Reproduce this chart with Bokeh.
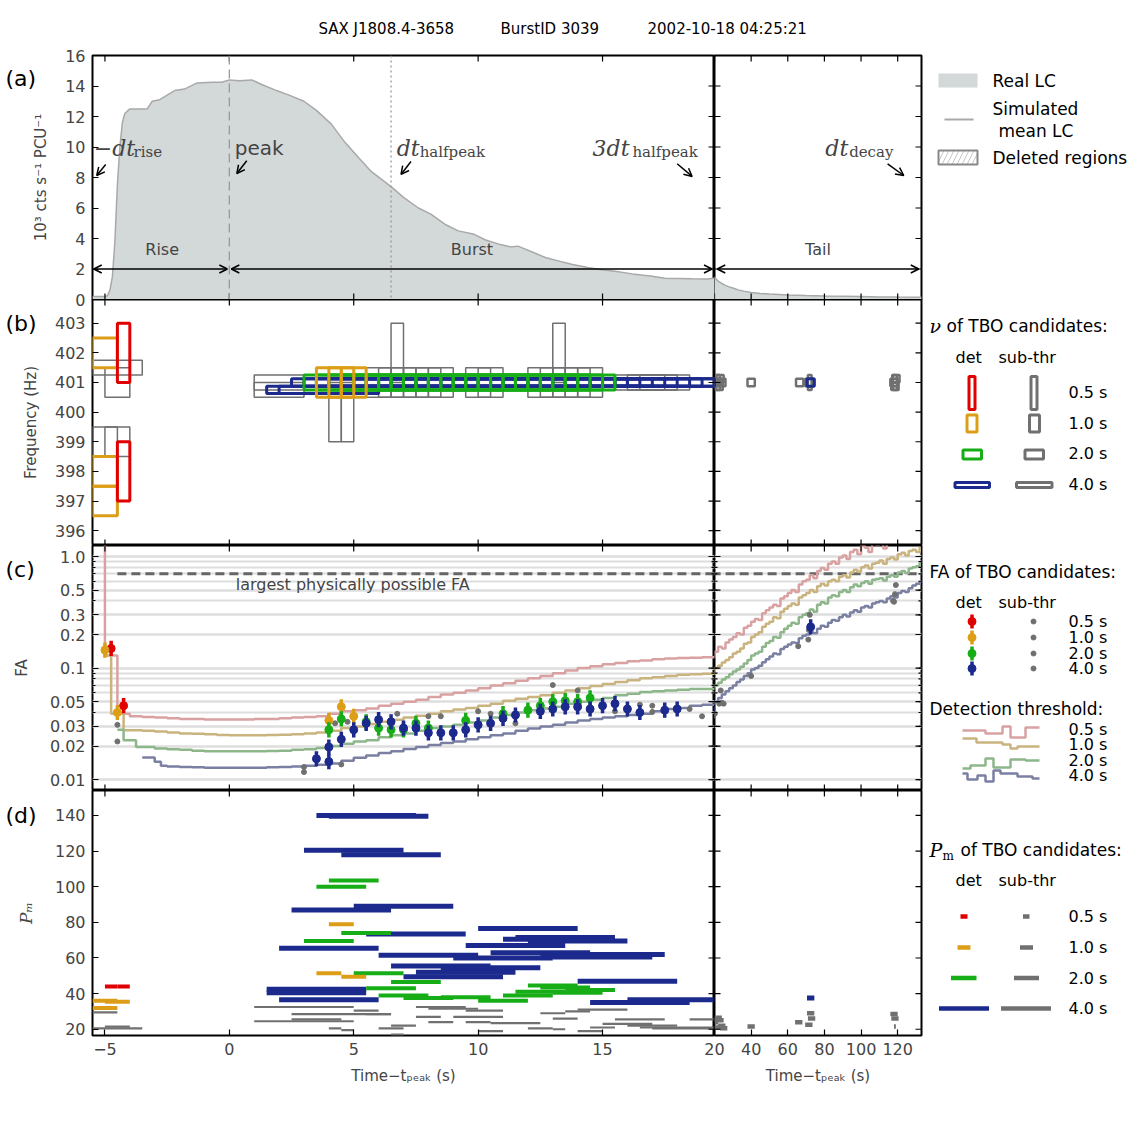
import math
from bokeh.plotting import figure
from bokeh.layouts import row, column
from bokeh.models import (Range1d, FixedTicker, Label, Span, Arrow, OpenHead, Grid,
                          CustomJSTickFormatter)
from bokeh.core.properties import value
from bokeh.embed import file_html
from bokeh.resources import INLINE

# ======================= DATA =======================
title_parts = ["SAX J1808.4-3658", "BurstID 3039", "2002-10-18 04:25:21"]
panel_tags = ["(a)", "(b)", "(c)", "(d)"]

# (a) light curve, 10^3 cts/s/PCU vs time - t_peak (s)
lc_t = [-5.5, -5.0, -4.9, -4.8, -4.7, -4.6, -4.5, -4.4, -4.3, -4.2, -4.0, -3.7, -3.3, -3.1, -2.8,
        -2.4, -2.2, -1.8, -1.3, -0.7, -0.3, 0.0, 0.4, 0.9, 1.3, 1.9, 2.4, 3.0, 3.5, 4.1, 4.6, 5.2,
        5.7, 6.5, 7.0, 7.6, 8.1, 8.7, 9.2, 9.8, 10.3, 10.9, 11.3, 11.6, 12.2, 12.7, 13.3, 13.8,
        14.4, 14.9, 15.5, 16.2, 17.0, 17.5, 18.1, 18.6, 19.2, 19.5, 20.0, 22.0, 24.0, 26.0, 28.0,
        30.0, 33.0, 36.0, 40.0, 45.0, 50.0, 55.0, 60.0, 70.0, 80.0, 90.0, 100.0, 110.0, 120.0, 133.0]
lc_f = [0.2, 0.2, 0.25, 0.6, 1.5, 3.8, 7.5, 10.0, 11.6, 12.2, 12.5, 12.5, 12.5, 13.0, 13.1,
        13.5, 13.7, 13.8, 14.2, 14.25, 14.25, 14.4, 14.35, 14.4, 14.1, 13.7, 13.4, 13.0, 12.4, 11.5,
        10.4, 9.3, 8.4, 7.4, 6.7, 6.0, 5.6, 4.9, 4.5, 4.3, 3.9, 3.6, 3.45, 3.5, 3.1, 2.75, 2.5,
        2.3, 2.1, 1.97, 1.86, 1.68, 1.53, 1.4, 1.38, 1.36, 1.34, 1.4, 1.45, 1.2, 1.05, 0.93, 0.83,
        0.75, 0.63, 0.55, 0.46, 0.4, 0.36, 0.33, 0.3, 0.26, 0.23, 0.21, 0.19, 0.17, 0.16, 0.15]
t_start, t_peak, t_halfpeak, t_burst_end, t_tail_start, t_tail_end = -5.45, 0.0, 6.5, 19.4, 21.5, 131.5
region_level = 2.0
region_names = ["Rise", "Burst", "Tail"]
region_x = [-2.7, 9.75, 76.5]

# (b) frequency of TBO candidates: window start (s), centre frequency (Hz)
b_red_start = [-4.5, -4.5]
b_red_freq = [402.0, 398.0]
b_ora_start = [-5.5, -5.5, -5.5, 3.5, 4.0, 4.5]
b_ora_freq = [402.0, 398.0, 397.0, 401.0, 401.0, 401.0]
b_grn_start = [3.0, 3.5, 4.0, 4.5, 5.0, 5.5, 6.0, 6.5, 7.0, 7.5, 8.0, 8.5, 9.0, 9.5, 10.0, 10.5,
               11.0, 11.5, 12.0, 12.5, 13.0, 13.5]
b_grn_freq = [401.0, 401.0, 401.0, 401.0, 401.0, 401.0, 401.0, 401.0, 401.0, 401.0, 401.0,
              401.0, 401.0, 401.0, 401.0, 401.0, 401.0, 401.0, 401.0, 401.0, 401.0, 401.0]
b_blu_start = [1.5, 2.0, 2.5, 3.0, 3.5, 4.0, 4.5, 5.0, 5.5, 6.0, 6.5, 7.0, 7.5, 8.0, 8.5, 9.0,
               9.5, 10.0, 10.5, 11.0, 11.5, 12.0, 12.5, 13.0, 13.5, 14.0, 14.5, 15.0, 15.5, 16.0, 70.5]
b_blu_freq = [400.75, 400.75, 401.0, 401.0, 401.0, 401.0, 401.0, 401.0, 401.0, 401.0, 401.0,
              401.0, 401.0, 401.0, 401.0, 401.0, 401.0, 401.0, 401.0, 401.0, 401.0, 401.0, 401.0,
              401.0, 401.0, 401.0, 401.0, 401.0, 401.0, 401.0, 401.0]
b_gry_start = [-5.5, -5.0, -5.5, -5.0, 4.0, 4.5, 6.5, 13.0, 5.5, 6.0, 6.5, 7.0, 7.5, 8.0, 9.5,
               10.0, 12.0, 12.5, 13.0, 13.5, 14.0, 1.0, 1.0, 15.5, 16.0, 16.5, 20.0, 20.5, 21.0,
               22.0, 21.0, 38.0, 64.5, 69.5, 71.0, 116.0, 116.5, 117.0, 117.5]
b_gry_freq = [401.5, 401.0, 399.0, 399.0, 400.0, 400.0, 402.0, 402.0, 401.0, 401.0, 401.0, 401.0,
              401.0, 401.0, 401.0, 401.0, 401.0, 401.0, 401.0, 401.0, 401.0, 400.75, 401.0, 401.0,
              401.0, 401.0, 401.0, 400.875, 401.125, 401.0, 401.0, 401.0, 401.0, 401.0, 401.0,
              401.0, 400.875, 401.125, 401.0]
b_gry_dur = [2.0, 1.0, 1.0, 1.0, 0.5, 0.5, 0.5, 0.5, 1.0, 1.0, 1.0, 1.0, 1.0, 1.0, 1.0, 1.0, 1.0,
             1.0, 1.0, 1.0, 1.0, 2.0, 2.0, 2.0, 2.0, 2.0, 4.0, 4.0, 4.0, 4.0, 2.0, 4.0, 4.0, 4.0,
             2.0, 4.0, 4.0, 4.0, 2.0]
durations = [0.5, 1.0, 2.0, 4.0]
dur_labels = ["0.5 s", "1.0 s", "2.0 s", "4.0 s"]

# (c) false-alarm probability
grid_l = [-5.5, -5.0, -4.5, -4.0, -3.5, -3.0, -2.5, -2.0, -1.5, -1.0, -0.5, 0.0, 0.5, 1.0, 1.5,
          2.0, 2.5, 3.0, 3.5, 4.0, 4.5, 5.0, 5.5, 6.0, 6.5, 7.0, 7.5, 8.0, 8.5, 9.0, 9.5, 10.0,
          10.5, 11.0, 11.5, 12.0, 12.5, 13.0, 13.5, 14.0, 14.5, 15.0, 15.5, 16.0, 16.5, 17.0,
          17.5, 18.0, 18.5, 19.0, 19.5]
grid_r = [20, 22, 24, 26, 28, 30, 32, 34, 36, 38, 40, 42, 44, 46, 48, 50, 52, 54, 56, 58, 60,
          62, 64, 66, 68, 70, 72, 74, 76, 78, 80, 82, 84, 86, 88, 90, 92, 94, 96, 98, 100, 102,
          104, 106, 108, 110, 112, 114, 116, 118, 120, 122, 124, 126, 128, 130, 132]
thr05_t = grid_l + grid_r
thr05 = [3.0, 0.13, 0.039, 0.037, 0.0365, 0.036, 0.0355, 0.035, 0.035, 0.0347, 0.0347, 0.0347,
         0.0347, 0.035, 0.035, 0.0355, 0.036, 0.0365, 0.037, 0.039, 0.041, 0.042, 0.0435, 0.046,
         0.048, 0.05, 0.052, 0.055, 0.058, 0.06, 0.063, 0.066, 0.07, 0.073, 0.077, 0.081, 0.085,
         0.09, 0.095, 0.1, 0.104, 0.108, 0.111, 0.115, 0.117, 0.12, 0.122, 0.123, 0.124, 0.125,
         0.125,
         0.14, 0.155, 0.15, 0.17, 0.18, 0.19, 0.205, 0.2, 0.23, 0.24, 0.26, 0.275, 0.27, 0.31,
         0.33, 0.35, 0.37, 0.36, 0.42, 0.44, 0.47, 0.5, 0.48, 0.56, 0.6, 0.62, 0.68, 0.64, 0.74,
         0.79, 0.76, 0.86, 0.9, 0.86, 0.98, 1.02, 0.95, 1.1, 1.15, 1.05, 1.25, 1.2, 1.1, 1.3,
         1.28, 1.35, 1.18, 1.4, 1.38, 1.3, 1.45, 1.4, 1.5, 1.35, 1.5, 1.45, 1.55]
thr10_t = [-5.0, -4.75, -4.25] + grid_l[4:] + grid_r
thr10 = [0.13, 0.039, 0.0277, 0.0275, 0.027, 0.0265, 0.026, 0.0258, 0.0255, 0.0252, 0.025,
         0.025, 0.025, 0.0252, 0.0253, 0.0256, 0.026, 0.0265, 0.0275, 0.029, 0.03, 0.0316, 0.033,
         0.0345, 0.036, 0.0375, 0.039, 0.041, 0.0425, 0.044, 0.046, 0.048, 0.051, 0.053, 0.055,
         0.057, 0.06, 0.063, 0.066, 0.069, 0.072, 0.075, 0.078, 0.081, 0.083, 0.085, 0.087,
         0.088, 0.089, 0.089,
         0.1, 0.105, 0.112, 0.118, 0.125, 0.135, 0.14, 0.15, 0.165, 0.17, 0.19, 0.2, 0.21, 0.235,
         0.25, 0.26, 0.285, 0.28, 0.32, 0.34, 0.36, 0.38, 0.37, 0.43, 0.45, 0.47, 0.5, 0.48,
         0.54, 0.57, 0.55, 0.6, 0.62, 0.6, 0.66, 0.68, 0.65, 0.72, 0.76, 0.73, 0.8, 0.83, 0.78,
         0.86, 0.88, 0.92, 0.86, 0.95, 0.98, 0.94, 1.05, 1.08, 1.02, 1.12, 1.15, 1.1, 1.22]
thr20_t = [-4.5, -4.25, -3.75] + grid_l[5:] + grid_r
thr20 = [0.028, 0.0226, 0.0196, 0.019, 0.0187, 0.0185, 0.0182, 0.018, 0.018, 0.018, 0.018,
         0.018, 0.0181, 0.0182, 0.0185, 0.0187, 0.0192, 0.02, 0.021, 0.022, 0.0226, 0.024, 0.025,
         0.026, 0.0275, 0.029, 0.03, 0.031, 0.0325, 0.034, 0.036, 0.038, 0.04, 0.042, 0.0435,
         0.045, 0.048, 0.05, 0.052, 0.054, 0.057, 0.059, 0.061, 0.062, 0.063, 0.064, 0.065,
         0.065, 0.065,
         0.07, 0.074, 0.079, 0.083, 0.088, 0.093, 0.097, 0.103, 0.11, 0.118, 0.13, 0.135, 0.14,
         0.155, 0.168, 0.175, 0.19, 0.187, 0.21, 0.225, 0.24, 0.255, 0.25, 0.285, 0.3, 0.31,
         0.335, 0.32, 0.37, 0.39, 0.38, 0.43, 0.45, 0.44, 0.48, 0.5, 0.48, 0.53, 0.56, 0.54,
         0.58, 0.6, 0.57, 0.62, 0.63, 0.64, 0.61, 0.66, 0.68, 0.66, 0.72, 0.74, 0.71, 0.78, 0.8,
         0.82, 0.88]
thr40_t = [-3.5, -3.0, -2.75] + grid_l[6:] + grid_r
thr40 = [0.0158, 0.0145, 0.0133, 0.0131, 0.013, 0.0129, 0.0128, 0.0128, 0.0128, 0.0128, 0.0128,
         0.0129, 0.013, 0.0131, 0.0133, 0.0136, 0.014, 0.0148, 0.0157, 0.0165, 0.0173, 0.018,
         0.0188, 0.0196, 0.0205, 0.0213, 0.022, 0.023, 0.024, 0.025, 0.026, 0.0275, 0.0287, 0.03,
         0.031, 0.0325, 0.034, 0.035, 0.036, 0.037, 0.038, 0.039, 0.041, 0.043, 0.044, 0.046,
         0.047, 0.048,
         0.05, 0.054, 0.058, 0.062, 0.066, 0.07, 0.075, 0.079, 0.085, 0.09, 0.097, 0.1, 0.105,
         0.113, 0.12, 0.127, 0.135, 0.133, 0.148, 0.155, 0.163, 0.17, 0.168, 0.185, 0.195, 0.2,
         0.21, 0.205, 0.225, 0.24, 0.235, 0.255, 0.27, 0.265, 0.285, 0.3, 0.29, 0.315, 0.33,
         0.32, 0.35, 0.36, 0.35, 0.38, 0.39, 0.4, 0.39, 0.42, 0.44, 0.43, 0.47, 0.49, 0.48, 0.52,
         0.55, 0.57, 0.6]
fa_max = 0.7
fa_line_start = -4.5
fa_line_text = "largest physically possible FA"

fa_red_t = [-4.75, -4.25]
fa_red = [0.15, 0.046]
fa_ora_t = [-5.0, -4.5, 4.0, 4.5, 5.0]
fa_ora = [0.145, 0.04, 0.034, 0.045, 0.037]
fa_grn_t = [4.0, 4.5, 5.5, 6.0, 6.5, 7.0, 7.5, 8.0, 9.5, 11.0, 12.0, 12.5, 13.0, 13.5, 14.0, 14.5]
fa_grn = [0.028, 0.035, 0.033, 0.029, 0.028, 0.028, 0.032, 0.029, 0.034, 0.039, 0.042, 0.046,
          0.05, 0.051, 0.05, 0.054]
fa_blu_t = [3.5, 4.0, 4.0, 4.5, 5.0, 5.5, 6.0, 6.5, 7.0, 7.5, 8.0, 8.5, 9.0, 9.5, 10.0, 10.5,
            11.0, 11.5, 12.5, 13.0, 13.5, 14.0, 14.5, 15.0, 15.5, 16.0, 16.5, 17.5, 18.0, 72.5]
fa_blu = [0.0154, 0.0196, 0.0145, 0.023, 0.028, 0.032, 0.0345, 0.033, 0.029, 0.029, 0.0263,
          0.0263, 0.0263, 0.028, 0.031, 0.032, 0.0355, 0.038, 0.041, 0.043, 0.045, 0.045, 0.043,
          0.046, 0.048, 0.043, 0.04, 0.042, 0.043, 0.234]
fa_err = 1.17
fa_sub_t = [-4.5, -4.5, 3.0, 3.0, 4.25, 4.5, 4.75, 6.75, 8.0, 8.5, 10.0, 10.5, 11.5, 13.0, 14.0,
            15.5, 16.5, 16.5, 17.0, 17.0, 18.5, 19.0, 20.2, 22.6, 23.4, 24.0, 25.0, 40.0, 65.7,
            71.2, 71.5, 72.0, 117.5, 118.0, 118.5, 119.0]
fa_sub = [0.031, 0.022, 0.013, 0.0117, 0.032, 0.0137, 0.033, 0.039, 0.037, 0.037, 0.041, 0.039,
          0.032, 0.0705, 0.063, 0.041, 0.047, 0.0405, 0.046, 0.0405, 0.043, 0.037, 0.039, 0.048,
          0.063, 0.049, 0.048, 0.085, 0.157, 0.18, 0.22, 0.3, 0.4, 0.393, 0.46, 0.555]

# (d) P_m of TBO candidates: window start (s), P_m
d_red_start = [-5.0, -4.5]
d_red_pm = [44.0, 44.0]
d_ora_start = [4.0, 3.5, 4.5, -5.5, -5.0, -5.5]
d_ora_pm = [79.0, 51.5, 49.5, 36.0, 35.5, 32.0]
d_grn_start = [4.0, 3.5, 4.5, 3.0, 5.0, 6.5, 5.5, 6.0, 7.0, 8.5, 10.0, 11.0, 12.0, 12.5, 11.5,
               13.0, 13.5]
d_grn_pm = [103.5, 100.0, 74.0, 69.5, 51.5, 46.5, 43.0, 39.0, 37.5, 38.0, 36.0, 39.0, 44.5,
            43.5, 41.0, 40.5, 42.0]
d_blu_start = [3.5, 4.0, 3.0, 4.5, 2.5, 5.0, 5.5, 2.0, 10.0, 11.0, 11.5, 12.0, 9.5, 6.0, 9.0,
               10.5, 12.5, 13.5, 13.0, 6.5, 8.5, 7.5, 7.0, 14.0, 1.5, 1.5, 2.0, 14.5, 16.0, 70.5]
d_blu_pm = [140.0, 139.5, 120.5, 118.0, 87.0, 89.0, 73.5, 65.5, 76.5, 70.5, 71.5, 69.5, 67.0,
            61.5, 60.0, 63.0, 61.0, 62.0, 60.5, 55.5, 54.5, 52.0, 49.5, 47.0, 42.5, 40.5, 36.5,
            35.0, 36.5, 37.5]
d_gry_start = [-5.5, -5.5, -5.0, 1.0, 2.5, 2.5, 1.0, 5.0, 5.5, 4.0, 4.5, 6.0, 6.5, 6.5, 7.5,
               8.0, 9.5, 7.5, 9.0, 8.0, 9.5, 10.5, 10.0, 12.0, 13.0, 12.5, 13.5, 14.0, 13.0, 14.0,
               14.5, 15.5, 18.5, 15.0, 16.0, 16.5, 17.0, 20.0, 21.0, 22.0, 20.0, 23.0, 20.0, 38.0,
               64.0, 69.5, 71.0, 70.5, 116.0, 116.5, 118.0]
d_gry_end = [-4.5, -3.5, -4.0, 5.0, 6.5, 4.5, 5.0, 6.0, 6.5, 4.5, 5.0, 7.0, 7.5, 7.0, 9.5, 10.0,
             11.0, 8.5, 11.0, 9.0, 10.5, 12.5, 11.0, 13.0, 13.5, 13.5, 14.5, 16.0, 14.0, 15.0,
             15.5, 17.5, 20.0, 17.0, 18.0, 19.5, 19.5, 24.0, 25.0, 26.0, 24.0, 27.0, 22.0, 42.0,
             68.0, 73.5, 75.0, 74.5, 120.0, 120.5, 119.0]
d_gry_pm = [29.5, 20.5, 21.5, 32.5, 28.5, 25.5, 24.5, 30.5, 28.5, 20.5, 19.5, 20.5, 22.0, 17.0,
            32.5, 31.5, 30.5, 27.0, 27.0, 24.0, 24.0, 23.5, 19.0, 20.5, 20.0, 29.0, 30.0, 31.0,
            26.0, 19.0, 21.0, 25.5, 25.5, 23.0, 22.0, 21.0, 20.5, 26.5, 25.0, 22.0, 21.0, 20.5,
            24.0, 21.5, 24.0, 22.5, 26.0, 29.0, 28.5, 26.0, 21.5]

# axis ticks
XT_L = [-5, 0, 5, 10, 15]
XT_R = [20, 40, 60, 80, 100, 120]
YT_A = [0, 2, 4, 6, 8, 10, 12, 14, 16]
YT_B = [396, 397, 398, 399, 400, 401, 402, 403]
YT_C = [0.01, 0.02, 0.03, 0.05, 0.1, 0.2, 0.3, 0.5, 1.0]
YT_C_MINOR = [0.01, 0.02, 0.03, 0.04, 0.05, 0.06, 0.07, 0.08, 0.09, 0.1, 0.2, 0.3, 0.4, 0.5,
              0.6, 0.7, 0.8, 0.9, 1.0]
YT_D = [20, 40, 60, 80, 100, 120, 140]

# ======================= STYLE =======================
FONT = "DejaVu Sans"
SERIF = "DejaVu Serif"
C_LC = "#d3d8d8"
C_LC_EDGE = "#a9a9a9"
C_RED, C_ORA, C_GRN, C_BLU, C_GRY = "#e00000", "#dc9e16", "#17ad17", "#1b2a8c", "#707070"
DET_COLS = [C_RED, C_ORA, C_GRN, C_BLU]
C_THR = ["#d9a1a1", "#c9b47f", "#8db78a", "#7b80a3"]
LEFT_W, RIGHT_W, LEG_W = 622, 207, 217
XL, XR = (-5.5, 19.5), (20.0, 133.0)
TITLE_H = 45
OVERLAP_AB = 9      # (a) canvas reaches under (b) so the "0" label is not clipped
OVERLAP_D = 14      # right (d) canvas reaches left so the "20" label is not clipped


def style_axis(ax, standoff):
    ax.major_label_text_font = FONT
    ax.major_label_text_font_size = "16px"
    ax.major_label_standoff = 7
    ax.major_tick_in = 6
    ax.major_tick_out = 0
    ax.minor_tick_in = 3
    ax.minor_tick_out = 0
    ax.major_tick_line_width = 1.2
    ax.axis_line_color = None
    ax.axis_label_text_font = FONT
    ax.axis_label_text_font_size = "15px"
    ax.axis_label_text_font_style = "normal"
    ax.axis_label_standoff = standoff


def inner_ticks(p, xs, ys, xr, yr, top=True, bottom=True, left=True, right=True, size=12):
    # matplotlib-like inward tick marks: dashes centred on the frame edge, clipped by the frame
    if top:
        p.scatter(x=xs, y=[yr[1]] * len(xs), marker="dash", angle=math.pi / 2, size=size,
                  line_color="black", line_width=1.2)
    if bottom:
        p.scatter(x=xs, y=[yr[0]] * len(xs), marker="dash", angle=math.pi / 2, size=size,
                  line_color="black", line_width=1.2)
    if left:
        p.scatter(x=[xr[0]] * len(ys), y=ys, marker="dash", size=size, line_color="black",
                  line_width=1.2)
    if right:
        p.scatter(x=[xr[1]] * len(ys), y=ys, marker="dash", size=size, line_color="black",
                  line_width=1.2)


def panel(side, fh, yr, yticks, ylog=False, xlabels=False, top=0, bottom=0, ylabel=None,
          ystandoff=10, xlabel=None, border_fill="white", left_border=0):
    L = side == "L"
    xr = XL if L else XR
    p = figure(frame_width=LEFT_W if L else RIGHT_W, frame_height=fh,
               x_range=Range1d(*xr), y_range=Range1d(*yr),
               y_axis_type="log" if ylog else "linear",
               x_axis_location="below" if xlabels else None,
               y_axis_location="left" if L else None,
               min_border_left=92 if L else left_border, min_border_right=0 if L else 2,
               min_border_top=top, min_border_bottom=bottom,
               toolbar_location=None, output_backend="svg",
               outline_line_color="black", outline_line_width=2,
               border_fill_color=border_fill)
    p.grid.visible = False
    if L:
        ax = p.yaxis[0]
        ax.ticker = yticks
        style_axis(ax, ystandoff)
        ax.axis_label = ylabel
    if xlabels:
        ax = p.xaxis[0]
        ax.ticker = FixedTicker(ticks=XT_L if L else XT_R)
        style_axis(ax, 9)
        ax.axis_label = xlabel
    return p


def lab(p, x, y, text, size="16px", font=FONT, style="normal", align="left", baseline="middle"):
    p.add_layout(Label(x=x, y=y, text=text, text_font=font, text_font_size=size,
                       text_font_style=style, text_align=align, text_baseline=baseline))


def arrow(p, x0, y0, x1, y1, both=False):
    p.add_layout(Arrow(start=OpenHead(size=8, line_width=1.5) if both else None,
                       end=OpenHead(size=8, line_width=1.5),
                       x_start=x0, y_start=y0, x_end=x1, y_end=y1, line_width=1.5))


def txt(f, xs, ys, texts, size="17px", font=FONT, style="normal", align="left"):
    f.text(x=xs, y=ys, text=texts, text_font=value(font), text_font_size=value(size),
           text_font_style=style, text_align=align, text_baseline="middle", text_color="black")


def boxes(p, starts, freqs, durs, color, lw):
    p.quad(left=starts, right=[s + d for s, d in zip(starts, durs)],
           bottom=[f - 0.5 / d for f, d in zip(freqs, durs)],
           top=[f + 0.5 / d for f, d in zip(freqs, durs)],
           fill_color=None, line_color=color, line_width=lw)


def blank_fig(w, h, x0, x1, y_top, y_bot, top=0, bottom=0, fill="white"):
    f = figure(frame_width=w, frame_height=h, x_range=Range1d(x0, x1),
               y_range=Range1d(y_bot, y_top), x_axis_location=None, y_axis_location=None,
               min_border_left=0, min_border_right=0, min_border_top=top,
               min_border_bottom=bottom, toolbar_location=None, output_backend="svg",
               outline_line_color=None, border_fill_color=fill, background_fill_color=fill)
    f.grid.visible = False
    return f


def legend_fig(y_top, y_bot, top=0, bottom=0, fill="white"):
    return blank_fig(LEG_W, y_bot - y_top, 923, 1140, y_top, y_bot, top, bottom, fill)


# ======================= TITLE =======================
title_fig = blank_fig(1140, TITLE_H, 0, 1140, 0, TITLE_H)
txt(title_fig, [318, 500, 647], [28, 28, 28], title_parts, size="15px")

# ======================= (a) =======================
yt_a = FixedTicker(ticks=YT_A)
pa = [panel("L", 244, (0, 16), yt_a, top=10, bottom=OVERLAP_AB, ylabel="10³ cts s⁻¹ PCU⁻¹",
            ystandoff=12),
      panel("R", 244, (0, 16), yt_a, top=10, bottom=OVERLAP_AB)]
for p in pa:
    p.varea(x=lc_t, y1=0, y2=lc_f, fill_color=C_LC)
    p.line(lc_t, lc_f, line_color=C_LC_EDGE, line_width=1.5)
inner_ticks(pa[0], XT_L, YT_A, XL, (0, 16), left=False)
inner_ticks(pa[1], XT_R, YT_A, XR, (0, 16))
pa[0].add_layout(Span(location=t_peak, dimension="height", line_color="#9a9a9a",
                      line_dash="9 5", line_width=1.3))
pa[0].add_layout(Span(location=t_halfpeak, dimension="height", line_color="#9a9a9a",
                      line_dash="2 3", line_width=1.3))
arrow(pa[0], t_start, region_level, t_peak - 0.08, region_level, both=True)
arrow(pa[0], t_peak + 0.08, region_level, t_burst_end, region_level, both=True)
arrow(pa[1], t_tail_start, region_level, t_tail_end, region_level, both=True)
lab(pa[0], region_x[0], 3.3, region_names[0], align="center")
lab(pa[0], region_x[1], 3.3, region_names[1], align="center")
lab(pa[1], region_x[2], 3.3, region_names[2], align="center")
# event markers
lab(pa[0], -5.45, 9.9, "−dt", size="22px", font=SERIF, style="italic", baseline="alphabetic")
lab(pa[0], -3.85, 9.7, "rise", size="15px", font=SERIF, baseline="alphabetic")
lab(pa[0], 0.22, 9.95, "peak", size="20px", baseline="alphabetic")
lab(pa[0], 6.73, 9.9, "dt", size="22px", font=SERIF, style="italic", baseline="alphabetic")
lab(pa[0], 7.65, 9.7, "halfpeak", size="15px", font=SERIF, baseline="alphabetic")
lab(pa[0], 14.6, 9.9, "3dt", size="22px", font=SERIF, style="italic", baseline="alphabetic")
lab(pa[0], 16.2, 9.7, "halfpeak", size="15px", font=SERIF, baseline="alphabetic")
lab(pa[1], 80.5, 9.9, "dt", size="22px", font=SERIF, style="italic", baseline="alphabetic")
lab(pa[1], 93.5, 9.7, "decay", size="15px", font=SERIF, baseline="alphabetic")
arrow(pa[0], -4.97, 8.85, -5.33, 8.13)
arrow(pa[0], 0.7, 9.1, 0.3, 8.26)
arrow(pa[0], 7.3, 9.05, 6.9, 8.2)
arrow(pa[0], 18.0, 8.9, 18.6, 8.07)
arrow(pa[1], 114.5, 8.9, 123.3, 8.13)

# ======================= (b) =======================
yt_b = FixedTicker(ticks=YT_B)
YR_B = (395.5, 403.8)
pb = [panel("L", 246, YR_B, yt_b, ylabel="Frequency (Hz)", ystandoff=12, border_fill=None),
      panel("R", 246, YR_B, yt_b, border_fill=None)]
for i, p in enumerate(pb):
    boxes(p, b_gry_start, b_gry_freq, b_gry_dur, C_GRY, 1.5 if i == 0 else 2.5)
    boxes(p, b_blu_start, b_blu_freq, [durations[3]] * len(b_blu_start), C_BLU, 3)
    boxes(p, b_grn_start, b_grn_freq, [durations[2]] * len(b_grn_start), C_GRN, 3)
    boxes(p, b_ora_start, b_ora_freq, [durations[1]] * len(b_ora_start), C_ORA, 3)
    boxes(p, b_red_start, b_red_freq, [durations[0]] * len(b_red_start), C_RED, 3)
inner_ticks(pb[0], XT_L, YT_B, XL, YR_B, left=False)
inner_ticks(pb[1], XT_R, YT_B, XR, YR_B)

# ======================= (c) =======================
yt_c = FixedTicker(ticks=YT_C, minor_ticks=YT_C_MINOR)
YR_C = (0.008, 1.255)
pc = [panel("L", 245, YR_C, yt_c, ylog=True, ylabel="FA", ystandoff=16),
      panel("R", 245, YR_C, yt_c, ylog=True)]
pc[0].yaxis[0].formatter = CustomJSTickFormatter(
    code="return tick >= 1 ? tick.toFixed(1) : String(tick);")
for p in pc:
    p.add_layout(Grid(dimension=1, ticker=yt_c, grid_line_color="#dedede", grid_line_width=2,
                      minor_grid_line_color="#dedede", minor_grid_line_width=2))
    p.ray(x=[fa_line_start], y=[fa_max], length=0, angle=0, line_color="#666666",
          line_width=3, line_dash="9 5")
    for tt, vv, cc in zip([thr05_t, thr10_t, thr20_t, thr40_t], [thr05, thr10, thr20, thr40],
                          C_THR):
        p.step(x=tt, y=vv, mode="after", line_color=cc, line_width=2.5)
    p.scatter(fa_sub_t, fa_sub, size=5, color=C_GRY)
    for tt, vv, cc in zip([fa_red_t, fa_ora_t, fa_grn_t, fa_blu_t],
                          [fa_red, fa_ora, fa_grn, fa_blu], DET_COLS):
        p.segment(x0=tt, y0=[v / fa_err for v in vv], x1=tt, y1=[v * fa_err for v in vv],
                  line_color=cc, line_width=3.5)
        p.scatter(tt, vv, size=8, color=cc)
lab(pc[0], 4.96, 0.565, fa_line_text, align="center")
inner_ticks(pc[0], XT_L, YT_C, XL, YR_C, left=False)
inner_ticks(pc[0], [], YT_C_MINOR, XL, YR_C, left=False, top=False, bottom=False, size=6)
inner_ticks(pc[1], XT_R, YT_C, XR, YR_C)
inner_ticks(pc[1], [], YT_C_MINOR, XR, YR_C, top=False, bottom=False, size=6)

# ======================= (d) =======================
yt_d = FixedTicker(ticks=YT_D)
YR_D = (16.5, 154)
xlab = "Time−tₚₑₐₖ (s)"
pd_ = [panel("L", 245, YR_D, yt_d, xlabels=True, bottom=80, ylabel="Pₘ", ystandoff=16,
             xlabel=xlab),
       panel("R", 245, YR_D, yt_d, xlabels=True, bottom=80, xlabel=xlab, border_fill=None,
             left_border=OVERLAP_D)]
pd_[0].yaxis[0].axis_label_text_font = SERIF
pd_[0].yaxis[0].axis_label_text_font_style = "italic"
pd_[0].yaxis[0].axis_label_text_font_size = "17px"
pd_[0].xaxis[0].major_label_overrides = {-5: "−5"}
pd_[1].margin = (0, 0, 0, -OVERLAP_D)
for i, p in enumerate(pd_):
    p.segment(x0=d_gry_start, y0=d_gry_pm, x1=d_gry_end, y1=d_gry_pm, line_color=C_GRY,
              line_width=2.2 if i == 0 else 4.5)
    for st, pm, d, cc, lw in zip([d_blu_start, d_grn_start, d_ora_start, d_red_start],
                                 [d_blu_pm, d_grn_pm, d_ora_pm, d_red_pm],
                                 [durations[3], durations[2], durations[1], durations[0]],
                                 [C_BLU, C_GRN, C_ORA, C_RED], [5, 4, 4, 4]):
        p.segment(x0=st, y0=pm, x1=[s + d for s in st], y1=pm, line_color=cc, line_width=lw)
inner_ticks(pd_[0], XT_L, YT_D, XL, YR_D, left=False, bottom=False)
inner_ticks(pd_[1], XT_R, YT_D, XR, YR_D, bottom=False)

# ======================= LEGENDS =======================
lg_a = legend_fig(55, 299, top=10, bottom=OVERLAP_AB)
lg_a.quad(left=[938], right=[977], top=[73], bottom=[87], fill_color=C_LC, line_color=None)
lg_a.line([944, 973], [119, 119], line_color=C_LC_EDGE, line_width=2)
lg_a.quad(left=[938], right=[977], top=[150], bottom=[164], fill_color=None,
          line_color="#888888", line_width=2, hatch_pattern="/", hatch_color="#c8c8c8",
          hatch_scale=10, hatch_weight=1)
txt(lg_a, [992, 992, 998, 992], [80, 108, 130, 157],
    ["Real LC", "Simulated", "mean LC", "Deleted regions"])

lg_b = legend_fig(299, 545)
txt(lg_b, [929], [325], ["ν"], size="19px", font=SERIF, style="italic")
txt(lg_b, [946], [325], ["of TBO candidates:"])
txt(lg_b, [955, 998], [357, 357], ["det", "sub-thr"], size="16px")
lg_b.quad(left=[968.5, 966.5, 962.5, 954.5], right=[974.5, 976.5, 981, 989],
          top=[376, 414.5, 449.5, 482], bottom=[409, 431.5, 458.5, 487], fill_color=None,
          line_color=DET_COLS, line_width=3)
lg_b.quad(left=[1030.5, 1029, 1024.5, 1016], right=[1036.5, 1039, 1043, 1051.5],
          top=[376, 414.5, 449.5, 482], bottom=[409, 431.5, 458.5, 487], fill_color=None,
          line_color=C_GRY, line_width=3)
txt(lg_b, [1068] * 4, [392, 423, 453, 484], dur_labels, size="16px")

lg_c = legend_fig(545, 790)
txt(lg_c, [929], [571], ["FA of TBO candidates:"])
txt(lg_c, [955, 998], [602, 602], ["det", "sub-thr"], size="16px")
leg_y = [621, 637, 653, 668]
lg_c.segment(x0=[971.5] * 4, y0=[y - 7 for y in leg_y], x1=[971.5] * 4,
             y1=[y + 7 for y in leg_y], line_color=DET_COLS, line_width=3.5)
lg_c.scatter([971.5] * 4, leg_y, size=8, color=DET_COLS)
lg_c.scatter([1033] * 4, leg_y, size=5, color=C_GRY)
txt(lg_c, [1068] * 4, leg_y, dur_labels, size="16px")
txt(lg_c, [929], [708], ["Detection threshold:"])
lg_c.multi_line(
    xs=[[962, 985, 985, 1002, 1002, 1010, 1010, 1025, 1025, 1039],
        [962, 976, 976, 1002, 1002, 1010, 1010, 1017, 1017, 1039],
        [962, 970, 970, 985, 985, 993, 993, 1010, 1010, 1025, 1025, 1039],
        [962, 967, 967, 977, 977, 985, 985, 993, 993, 1000, 1000, 1017, 1017, 1032, 1032, 1039]],
    ys=[[730, 730, 733, 733, 726, 726, 737, 737, 727, 727],
        [738, 738, 742, 742, 744, 744, 748, 748, 746, 746],
        [768, 768, 765, 765, 758, 758, 767, 767, 759, 759, 760, 760],
        [773, 773, 779, 779, 775, 775, 781, 781, 770, 770, 773, 773, 776, 776, 778, 778]],
    line_color=C_THR, line_width=2.5)
txt(lg_c, [1068] * 4, [729, 744, 760, 775], dur_labels, size="16px")

lg_d = legend_fig(790, 1035, bottom=80)
txt(lg_d, [929], [849], ["P"], size="19px", font=SERIF, style="italic")
txt(lg_d, [942], [855], ["m"], size="12px", font=SERIF)
txt(lg_d, [960], [849], ["of TBO candidates:"])
txt(lg_d, [955, 998], [880, 880], ["det", "sub-thr"], size="16px")
leg_dy = [916, 947, 977.5, 1008]
lg_d.segment(x0=[960, 957, 950.5, 938.5], y0=leg_dy, x1=[967, 970, 976, 988.5], y1=leg_dy,
             line_color=DET_COLS, line_width=4.5)
lg_d.segment(x0=[1022.5, 1019.5, 1013.5, 1000.5], y0=leg_dy, x1=[1029, 1032.5, 1038.5, 1050.5],
             y1=leg_dy, line_color=C_GRY, line_width=4.5)
txt(lg_d, [1068] * 4, leg_dy, dur_labels, size="16px")

# ======================= PANEL TAGS (transparent overlay) =======================
PAGE_H = TITLE_H + (10 + 244 + OVERLAP_AB) + (246 - OVERLAP_AB) + 245 + (245 + 80)
overlay = blank_fig(1140, PAGE_H, 0, 1140, 0, PAGE_H, fill=None)
txt(overlay, [5, 5, 5, 5], [78, 323, 569, 815], panel_tags, size="22px")
overlay.margin = (-PAGE_H, 0, 0, 0)

# ======================= LAYOUT =======================
layout = column(title_fig,
                row(pa[0], pa[1], lg_a),
                row(pb[0], pb[1], lg_b, margin=(-OVERLAP_AB, 0, 0, 0)),
                row(pc[0], pc[1], lg_c),
                row(pd_[0], pd_[1], lg_d),
                overlay)

open("out.html", "w").write(file_html(layout, INLINE, title="TBO candidates"))
